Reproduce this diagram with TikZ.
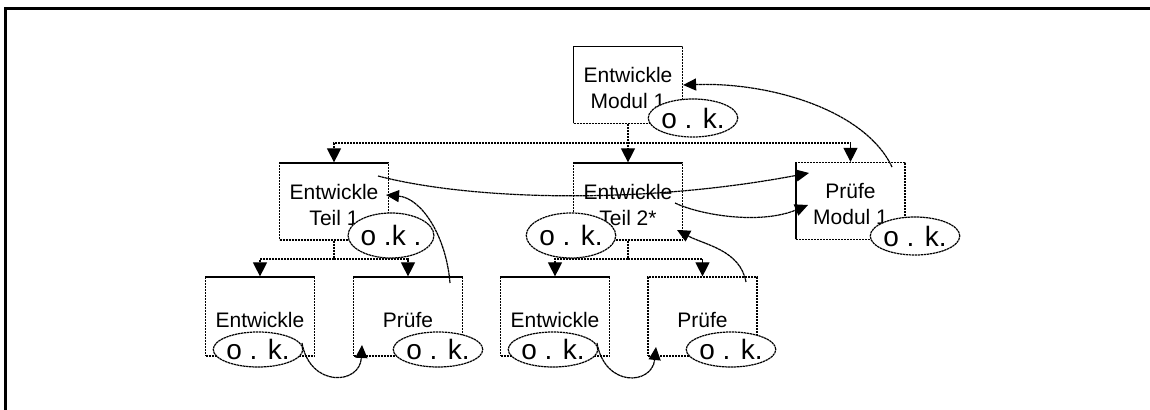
\documentclass[tikz,border=0pt]{standalone}
\usepackage{fontspec}
\setmainfont{Liberation Sans}
\usetikzlibrary{shapes.geometric,arrows.meta}

\begin{document}
\begin{tikzpicture}[
x=0.5pt, y=-0.5pt,
box/.style={draw, dash pattern=on 1.2pt off 0.3pt, line width=0.6pt, align=center, minimum width=54.5pt, minimum height=38.5pt, inner sep=0pt, text height=24pt, text depth=0pt, font=\fontsize{10.5}{13}\selectfont},
leaf/.style={box, minimum height=39.5pt, text height=11.5pt},
ok/.style={draw, ellipse, fill=white, dash pattern=on 1.2pt off 0.3pt, line width=0.6pt, minimum width=35pt, minimum height=19pt, inner sep=0pt, font=\fontsize{14}{14}\selectfont},
arrow/.style={-{Triangle[length=7pt,width=7pt]}, dash pattern=on 1.2pt off 0.3pt, line width=0.6pt},
curve/.style={-{Triangle[length=6.5pt,width=6pt]}, dash pattern=on 1.5pt off 0.25pt, line width=0.6pt},
frame/.style={line width=1.5pt}
]
\useasboundingbox (0,0) rectangle (1150,410);

\draw[frame] (5.5,410) -- (5.5,8.3) -- (1150,8.3);

\node[box] (modul) at (628,85) {Entwickle\\Modul 1};

\node[box] (teilA) at (334,201.5) {Entwickle\\Teil 1};
\node[box] (teilB) at (628,201.5) {Entwickle\\Teil 2*};
\node[box] (pruefM) at (850.5,201) {Prüfe\\Modul 1};

\node[leaf] (entA) at (260,316.5) {Entwickle};
\node[leaf] (pruefA) at (408,316.5) {Prüfe};
\node[leaf] (entB) at (555,316.5) {Entwickle};
\node[leaf] (pruefB) at (702.5,316.5) {Prüfe};

\node[ok] (okM) at (693,118) {o . k.};
\node[ok, minimum height=22.5pt] (okA) at (391,235.5) {o .k .};
\node[ok, minimum height=22.5pt] (okB) at (571,235.5) {o . k.};
\node[ok] (okP) at (915,236) {o . k.};
\node[ok, minimum height=17.5pt] (okEA) at (258,349.5) {o . k.};
\node[ok, minimum height=17.5pt] (okPA) at (438,349.5) {o . k.};
\node[ok, minimum height=17.5pt] (okEB) at (553,349.5) {o . k.};
\node[ok, minimum height=17.5pt] (okPB) at (731,349.5) {o . k.};

\coordinate (busM) at (628,143);
\coordinate (busA) at (334,259);
\coordinate (busB) at (628,259);

\draw[arrow] (modul) -- (teilB);
\draw[arrow] (busM) -| (teilA.north);
\draw[arrow] (busM) -| (pruefM.north);

\draw[arrow] (teilA) -- (busA) -| (entA.north);
\draw[arrow] (busA) -| (pruefA.north);
\draw[arrow] (teilB) -- (busB) -| (entB.north);
\draw[arrow] (busB) -| (pruefB.north);

\coordinate (eaOut) at (302,343);
\coordinate (paIn) at (362,345);
\coordinate (ebOut) at (597,343);
\coordinate (pbIn) at (656,347);
\coordinate (paOut) at (450,283);
\coordinate (taIn) at (386,195);
\coordinate (pbOut) at (746,282);
\coordinate (tbIn) at (677,230);
\coordinate (pmOut) at (892,167);
\coordinate (taOut) at (378,176);
\coordinate (pmInA) at (809,173);
\coordinate (tbOut) at (675,203);
\coordinate (pmInB) at (808,205);

\draw[curve] (eaOut) .. controls +(8,45) and +(-2,40) .. (paIn);
\draw[curve] (ebOut) .. controls +(8,45) and +(-4,38) .. (pbIn);

\draw[curve] (paOut) .. controls +(-4,-48) and +(35,3) .. (taIn);
\draw[curve] (pbOut) .. controls +(-6,-32) and +(28,15) .. (tbIn);
\draw[curve] (pmOut) .. controls (865,110) and (770,82) .. (modul.east);

\draw[curve] (taOut) .. controls (470,200) and (640,205) .. (pmInA);
\draw[curve] (tbOut) .. controls (700,215) and (760,225) .. (pmInB);

\end{tikzpicture}
\end{document}
